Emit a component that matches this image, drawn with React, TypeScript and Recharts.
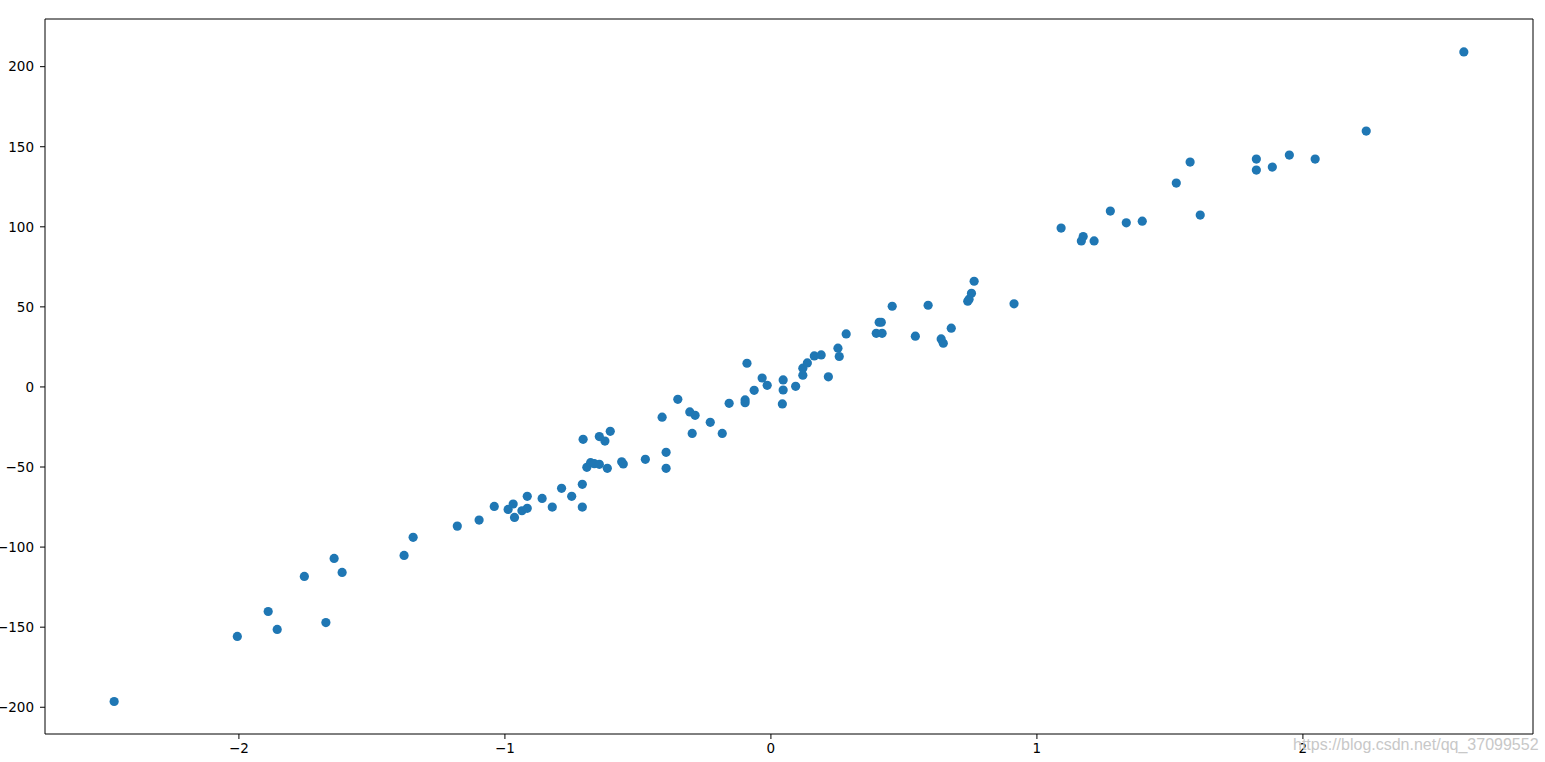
import React from 'react';
import { ScatterChart, Scatter, XAxis, YAxis, ReferenceArea } from 'recharts';

const xValues = [
  -2.469, -2.006, -1.89, -1.856, -1.754, -1.673, -1.642, -1.612, -1.379, -1.345,
  -1.179, -1.097, -1.04, -0.988, -0.969, -0.964, -0.936, -0.916, -0.916, -0.86,
  -0.822, -0.787, -0.749, -0.709, -0.709, -0.706, -0.692, -0.678, -0.664, -0.645,
  -0.645, -0.624, -0.615, -0.604, -0.561, -0.555, -0.472, -0.409, -0.394, -0.394,
  -0.35, -0.305, -0.285, -0.296, -0.228, -0.183, -0.157, -0.097, -0.097, -0.09,
  -0.063, -0.033, -0.014, 0.043, 0.046, 0.046, 0.093, 0.12, 0.12, 0.137,
  0.163, 0.189, 0.216, 0.252, 0.257, 0.283, 0.396, 0.418, 0.407, 0.415,
  0.456, 0.543, 0.591, 0.64, 0.648, 0.678, 0.74, 0.745, 0.754, 0.764,
  0.914, 1.091, 1.167, 1.174, 1.215, 1.276, 1.336, 1.396, 1.524, 1.576,
  1.614, 1.825, 1.825, 1.885, 1.949, 2.046, 2.238, 2.605,
];
const yValues = [
  -196.4, -155.8, -140.2, -151.4, -118.3, -147.1, -107.1, -115.8, -105.2, -93.9,
  -86.9, -83.1, -74.6, -76.5, -73.1, -81.5, -77.3, -75.8, -68.3, -69.6,
  -75.0, -63.3, -68.3, -75.0, -60.8, -32.7, -50.2, -47.3, -47.9, -48.3,
  -31.0, -33.8, -50.8, -27.7, -46.7, -48.1, -45.2, -18.9, -40.8, -50.8,
  -7.7, -15.6, -17.7, -29.0, -22.1, -29.0, -10.2, -8.1, -9.8, 14.8,
  -2.1, 5.6, 1.0, -10.6, 4.4, -1.9, 0.4, 11.7, 7.3, 15.0,
  19.4, 20.0, 6.3, 24.2, 19.0, 33.1, 33.5, 33.5, 40.4, 40.4,
  50.4, 31.7, 51.0, 30.0, 27.3, 36.7, 53.5, 54.8, 58.5, 66.0,
  51.9, 99.2, 91.2, 93.9, 91.2, 109.8, 102.5, 103.5, 127.3, 140.4,
  107.3, 142.3, 135.4, 137.3, 144.8, 142.3, 159.8, 209.2,
];
const xTicks = [-2, -1, 0, 1, 2];
const yTicks = [-200, -150, -100, -50, 0, 50, 100, 150, 200];
const xDomain: [number, number] = [-2.729, 2.865];
const yDomain: [number, number] = [-216.7, 229.75];
const watermark = 'https://blog.csdn.net/qq_37099552';

const data = xValues.map((x, i) => ({ x, y: yValues[i] }));

const fmt = (v: number) => String(v).replace('-', '\u2212');

const Dot = (props: any) => (
  <circle cx={props.cx} cy={props.cy} r={4.6} fill="#1f77b4" />
);

const tickStyle = { fill: '#000', fontSize: 13.5, fontFamily: 'DejaVu Sans' };

export default function App() {
  return (
    <div style={{ position: 'absolute', left: 0, top: 0, width: 1545, height: 762, background: '#fff' }}>
      <ScatterChart width={1545} height={762} margin={{ top: 19, right: 12, bottom: 0, left: 0 }}>
        <XAxis
          dataKey="x"
          type="number"
          domain={xDomain}
          ticks={xTicks}
          interval={0}
          allowDataOverflow
          axisLine={false}
          tickLine={{ stroke: '#000' }}
          tickSize={5}
          tickMargin={4}
          height={28}
          tick={tickStyle}
          tickFormatter={fmt}
        />
        <YAxis
          dataKey="y"
          type="number"
          domain={yDomain}
          ticks={yTicks}
          interval={0}
          allowDataOverflow
          axisLine={false}
          tickLine={{ stroke: '#000' }}
          tickSize={5}
          tickMargin={6}
          width={45}
          tick={tickStyle}
          tickFormatter={fmt}
        />
        <ReferenceArea
          x1={xDomain[0]}
          x2={xDomain[1]}
          y1={yDomain[0]}
          y2={yDomain[1]}
          fill="none"
          fillOpacity={0}
          stroke="#000"
          strokeWidth={1}
        />
        <Scatter data={data} shape={Dot} isAnimationActive={false} />
      </ScatterChart>
      <svg
        width={1545}
        height={762}
        style={{ position: 'absolute', left: 0, top: 0, pointerEvents: 'none' }}
      >
        <text x={1293} y={750} fontSize={16} fontFamily="Liberation Sans" fill="#c8c8c8">
          {watermark}
        </text>
      </svg>
    </div>
  );
}
